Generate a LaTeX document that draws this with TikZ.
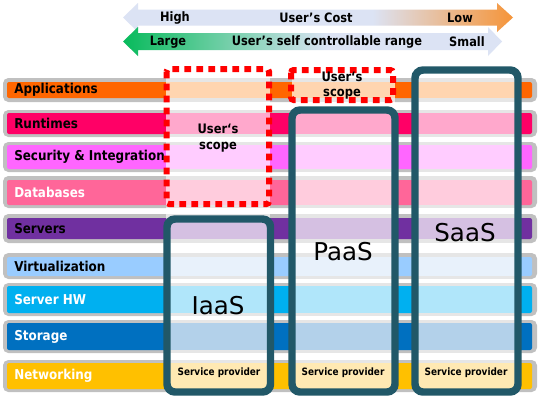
\documentclass[tikz,border=0pt]{standalone}
\usepackage{fontspec}
\setmainfont{DejaVu Sans}
\newfontfamily\lblfont{DejaVu Sans}[FakeStretch=0.88]
\definecolor{appC}{HTML}{FF6600}\definecolor{appP}{HTML}{FFD5B0}
\definecolor{runC}{HTML}{FF0066}\definecolor{runP}{HTML}{FFA8CC}
\definecolor{secC}{HTML}{FF66FF}\definecolor{secP}{HTML}{FFCCFF}
\definecolor{dbC}{HTML}{FF6699}\definecolor{dbP}{HTML}{FFCCDD}
\definecolor{srvC}{HTML}{7030A0}\definecolor{srvP}{HTML}{D5C0E2}
\definecolor{virC}{HTML}{99CCFF}\definecolor{virP}{HTML}{E8F1FB}
\definecolor{hwC}{HTML}{00B0F0}\definecolor{hwP}{HTML}{B0E6FA}
\definecolor{stC}{HTML}{0070C0}\definecolor{stP}{HTML}{B3D1EA}
\definecolor{netC}{HTML}{FFC000}\definecolor{netP}{HTML}{FFE9B3}
\definecolor{bandgray}{HTML}{C0C0C0}
\definecolor{bandlight}{HTML}{E6E6E6}
\definecolor{frameC}{HTML}{215868}
\definecolor{arrpale}{HTML}{DCE3F4}
\definecolor{arrorange}{HTML}{F7902E}
\definecolor{arrgreen}{HTML}{00B956}
\pgfdeclarehorizontalshading{costshade}{100bp}{color(0bp)=(arrpale); color(57bp)=(arrpale); color(76bp)=(arrorange); color(100bp)=(arrorange)}
\pgfdeclarehorizontalshading{rangeshade}{100bp}{color(0bp)=(arrgreen); color(24bp)=(arrgreen); color(52bp)=(arrpale); color(100bp)=(arrpale)}
\begin{document}
\begin{tikzpicture}[x=0.75pt,y=-0.75pt,
  lbl/.style={anchor=west,font=\lblfont\bfseries\fontsize{10.2}{11}\selectfont,inner sep=0pt},
  toptext/.style={font=\lblfont\bfseries\fontsize{9.7}{11}\selectfont,inner sep=0pt},
  scopetext/.style={font=\lblfont\bfseries\fontsize{9.8}{11.5}\selectfont,inner sep=0pt,align=center},
  captext/.style={font=\fontsize{18.4}{20}\selectfont,inner sep=0pt},
  provtext/.style={font=\lblfont\bfseries\fontsize{7.6}{9}\selectfont,inner sep=0pt},
  frame/.style={draw=frameC,line width=5.6pt,rounded corners=6pt},
  scopebox/.style={draw=red,line width=4.5pt,dash pattern=on 5pt off 4pt,rounded corners=2pt}]
\useasboundingbox (0,0) rectangle (541,404);
\fill[white] (0,0) rectangle (541,404);
% top arrows
\shade[shading=costshade] (123,17.5) -- (138,3) -- (138,9.5) -- (497,9.5) -- (497,3) -- (513,17.5) -- (497,32) -- (497,25.5) -- (138,25.5) -- (138,32) -- cycle;
\shade[shading=rangeshade] (123,41.5) -- (138,27) -- (138,33) -- (488,33) -- (488,27) -- (502,41.5) -- (488,56) -- (488,50) -- (138,50) -- (138,56) -- cycle;
\node[toptext] (high) at (175,18) {High};
\node[toptext] (cost) at (316,18) {User’s Cost};
\node[toptext] (low) at (460,18) {Low};
\node[toptext] (large) at (168,42) {Large};
\node[toptext] (range) at (327,42) {User’s self controllable range};
\node[toptext] (small) at (467,42) {Small};
% rows
\foreach \bt/\bb/\gt/\gb/\c in {82/98/78/102/appC,113/134/110/137/runC,145/169/142/172/secC,180/205/176/208/dbC,218/239/214/243/srvC,257/276/253/279/virC,286/313/283/316/hwC,323/350/320/353/stC,363/389/360/392/netC}{
  \fill[bandgray,rounded corners=4pt] (3,\gt) rectangle (537,\gb);
  \fill[\c,rounded corners=1.5pt] (7,\bt) rectangle (532,\bb);
}
% pale stripes
\foreach \xa/\xb in {166/270,292/395,414/519}{
  \fill[white] (\xa,66) rectangle (\xb,394);
  \foreach \bt/\bb/\gt/\gb/\p in {82/98/78/102/appP,113/134/110/137/runP,145/169/142/172/secP,180/205/176/208/dbP,218/239/214/243/srvP,257/276/253/279/virP,286/313/283/316/hwP,323/350/320/353/stP,363/389/360/392/netP}{
    \fill[bandlight] (\xa,\gt) rectangle (\xb,\gb);
    \fill[\p] (\xa,\bt) rectangle (\xb,\bb);
  }
}
% row labels
\node[lbl,text=black] (applications) at (14,90) {Applications};
\node[lbl,text=black] (runtimes) at (14,123.5) {Runtimes};
\node[lbl,text=black] (security) at (14,157) {Security \& Integration};
\node[lbl,text=white] (databases) at (14,192.5) {Databases};
\node[lbl,text=black] (servers) at (14,228.5) {Servers};
\node[lbl,text=black] (virtualization) at (14,266.5) {Virtualization};
\node[lbl,text=white] (serverhw) at (14,299.5) {Server HW};
\node[lbl,text=white] (storage) at (14,336.5) {Storage};
\node[lbl,text=white] (networking) at (14,376) {Networking};
% user scope boxes
\draw[scopebox] (166.5,69) rectangle (269,204);
\draw[scopebox] (291,70) rectangle (393,100);
\node[scopetext] (scope1) at (218,138) {User‘s\\scope};
\node[scopetext] (scope2) at (342,85.5) {User‘s\\scope};
% service frames
\draw[frame] (167,219) rectangle (270.5,392);
\draw[frame] (292,110) rectangle (395,392);
\draw[frame] (415,70) rectangle (518,392);
\node[captext] (iaas) at (218,306) {IaaS};
\node[captext] (paas) at (343,252) {PaaS};
\node[captext] (saas) at (465,233) {SaaS};
\node[provtext] (prov1) at (219,373) {Service provider};
\node[provtext] (prov2) at (343,373) {Service provider};
\node[provtext] (prov3) at (466,373) {Service provider};
\end{tikzpicture}
\end{document}
